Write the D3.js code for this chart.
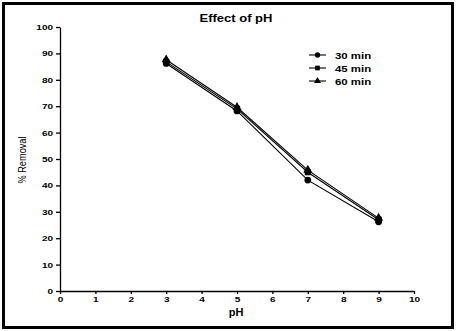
<!DOCTYPE html>
<html>
<head>
<meta charset="utf-8">
<script src="https://cdn.jsdelivr.net/npm/d3@7"></script>
<style>
  body { margin: 0; background: #fff; }
  svg { display: block; font-family: "Liberation Sans", Arial, sans-serif; }
</style>
</head>
<body>
<div id="chart"></div>
<script>
// pH values on x axis
var phValues = [3, 5, 7, 9];
var seriesNames = ["30 min", "45 min", "60 min"];
var removal30 = [86.2, 68.2, 42, 26.2];
var removal45 = [86.8, 69, 45, 27];
var removal60 = [87.6, 69.6, 45.8, 27.6];
var xTicks = [0, 1, 2, 3, 4, 5, 6, 7, 8, 9, 10];
var yTicks = [0, 10, 20, 30, 40, 50, 60, 70, 80, 90, 100];

var width = 456, height = 331;
var margin = { top: 27, right: 42, bottom: 40, left: 60 };

var svg = d3.select("#chart").append("svg")
    .attr("width", width)
    .attr("height", height);

// widen glyphs a bit, the original text looks stretched
var stretch = function (sel, k) {
    sel.each(function () {
        var w = this.getComputedTextLength();
        d3.select(this).attr("textLength", w * k).attr("lengthAdjust", "spacingAndGlyphs");
    });
};

// outer frame
svg.append("rect")
    .attr("x", 3.5).attr("y", 3.5)
    .attr("width", width - 7).attr("height", height - 7)
    .attr("fill", "none").attr("stroke", "#000").attr("stroke-width", 3);

var x = d3.scaleLinear().domain([0, 10]).range([margin.left, width - margin.right]);
var y = d3.scaleLinear().domain([0, 100]).range([height - margin.bottom, margin.top]);

var xAxis = svg.append("g")
    .attr("transform", "translate(0," + y(0) + ")")
    .call(d3.axisBottom(x).tickValues(xTicks).tickSize(3).tickPadding(2).tickSizeOuter(0));
var yAxis = svg.append("g")
    .attr("transform", "translate(" + x(0) + ",0)")
    .call(d3.axisLeft(y).tickValues(yTicks).tickSize(4).tickPadding(3).tickSizeOuter(0));

[xAxis, yAxis].forEach(function (ax) {
    ax.select(".domain").attr("stroke", "#000").attr("stroke-width", 1.3);
    ax.selectAll(".tick line").attr("stroke", "#000").attr("stroke-width", 1.3);
    ax.selectAll(".tick text")
        .attr("fill", "#000")
        .style("font-size", "8px")
        .style("font-weight", "bold")
        .call(stretch, 1.25);
});

// titles
svg.append("text")
    .attr("x", 236).attr("y", 22)
    .attr("text-anchor", "middle")
    .style("font-size", "10px").style("font-weight", "bold")
    .text("Effect of pH")
    .call(stretch, 1.3);

svg.append("text")
    .attr("x", 236).attr("y", 316)
    .attr("text-anchor", "middle")
    .style("font-size", "10px").style("font-weight", "bold")
    .text("pH")
    .call(stretch, 1.1);

svg.append("text")
    .attr("transform", "translate(26,160) rotate(-90)")
    .attr("text-anchor", "middle")
    .style("font-size", "10px")
    .text("% Removal")
    .call(stretch, 0.92);

var allSeries = [removal30, removal45, removal60];
var symbols = [d3.symbolCircle, d3.symbolSquare, d3.symbolTriangle];
var symSizes = [36, 38, 36];

var line = d3.line()
    .x(function (d, i) { return x(phValues[i]); })
    .y(function (d) { return y(d); });

allSeries.forEach(function (vals, s) {
    svg.append("path")
        .datum(vals)
        .attr("d", line)
        .attr("fill", "none")
        .attr("stroke", "#000")
        .attr("stroke-width", 1.1);
});

allSeries.forEach(function (vals, s) {
    svg.selectAll(".pt" + s)
        .data(vals)
        .enter().append("path")
        .attr("transform", function (d, i) { return "translate(" + x(phValues[i]) + "," + y(d) + ")"; })
        .attr("d", d3.symbol().type(symbols[s]).size(symSizes[s]))
        .attr("fill", "#000");
});

// legend
var legend = svg.append("g");
seriesNames.forEach(function (name, i) {
    var ly = 55 + i * 13;
    legend.append("line")
        .attr("x1", 309).attr("x2", 326)
        .attr("y1", ly).attr("y2", ly)
        .attr("stroke", "#000").attr("stroke-width", 1.1);
    legend.append("path")
        .attr("transform", "translate(317.5," + ly + ")")
        .attr("d", d3.symbol().type(symbols[i]).size(22))
        .attr("fill", "#000");
    legend.append("text")
        .attr("x", 335).attr("y", ly + 3.5)
        .style("font-size", "9.5px").style("font-weight", "bold")
        .text(name)
        .call(stretch, 1.2);
});
</script>
</body>
</html>
